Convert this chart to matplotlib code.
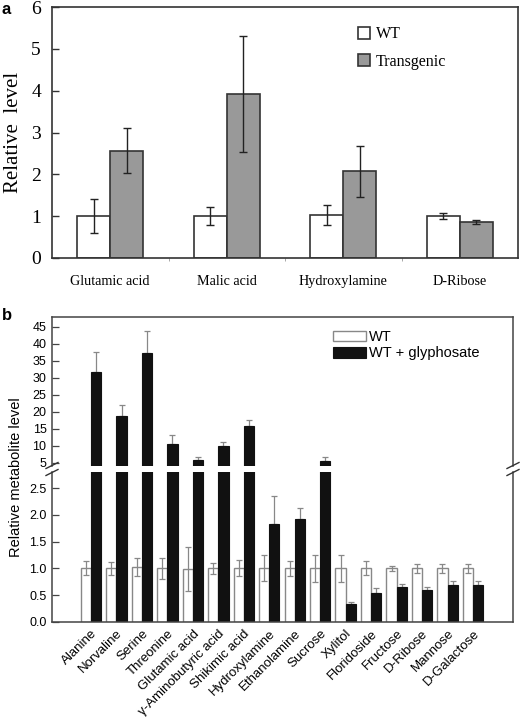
import matplotlib
matplotlib.use("Agg")
import matplotlib.pyplot as plt
import numpy as np

# Panel a data
a_categories = ["Glutamic acid", "Malic acid", "Hydroxylamine", "D-Ribose"]
a_wt = [1.0, 1.0, 1.02, 1.0]
a_wt_err = [0.40, 0.22, 0.24, 0.07]
a_tg = [2.56, 3.92, 2.07, 0.87]
a_tg_err = [0.54, 1.38, 0.60, 0.05]

# Panel b data
b_categories = ["Alanine", "Norvaline", "Serine", "Threonine", "Glutamic acid",
                "γ-Aminobutyric acid", "Shikimic acid", "Hydroxylamine", "Ethanolamine",
                "Sucrose", "Xylitol", "Floridoside", "Fructose", "D-Ribose", "Mannose",
                "D-Galactose"]
b_wt = [1.0, 1.0, 1.02, 1.0, 0.99, 1.0, 1.0, 1.01, 1.0, 1.0, 1.0, 1.0, 1.0, 1.0, 1.0, 1.0]
b_wt_err = [0.13, 0.12, 0.17, 0.20, 0.41, 0.10, 0.15, 0.25, 0.14, 0.26, 0.26, 0.13, 0.05, 0.09, 0.08, 0.09]
b_gly = [31.6, 18.9, 37.2, 10.7, 5.9, 10.0, 16.0, 1.83, 1.92, 5.5, 0.34, 0.54, 0.65, 0.60, 0.70, 0.69]
b_gly_err = [5.9, 3.0, 6.7, 2.6, 0.9, 1.3, 1.6, 0.53, 0.20, 1.3, 0.03, 0.10, 0.06, 0.06, 0.06, 0.08]

a_yticks = [0, 1, 2, 3, 4, 5, 6]
b_upper_ticks = [5, 10, 15, 20, 25, 30, 35, 40, 45]
b_lower_ticks = [0.0, 0.5, 1.0, 1.5, 2.0, 2.5]

fig = plt.figure(figsize=(5.2, 7.19), dpi=100)
W, H = 520.0, 719.0

def box(l, t, r, b):
    return [l / W, 1 - b / H, (r - l) / W, (b - t) / H]

# ---------------- Panel a ----------------
serif = ["Liberation Serif", "DejaVu Serif"]
axa = fig.add_axes(box(52, 7, 518, 258))
x = np.arange(len(a_categories))
bw = 0.285
edge = "#333333"
axa.bar(x - bw / 2, a_wt, bw, color="white", edgecolor=edge, linewidth=1.2, label="WT", zorder=2)
axa.bar(x + bw / 2, a_tg, bw, color="#999999", edgecolor=edge, linewidth=1.2, label="Transgenic", zorder=2)
axa.errorbar(x - bw / 2, a_wt, yerr=a_wt_err, fmt="none", ecolor="#222222", elinewidth=1.0, capsize=3, capthick=1.0, zorder=3)
axa.errorbar(x + bw / 2, a_tg, yerr=a_tg_err, fmt="none", ecolor="#222222", elinewidth=1.0, capsize=3, capthick=1.0, zorder=3)
axa.set_xlim(-0.5, 3.5)
axa.set_ylim(0, 6)
axa.set_yticks(a_yticks)
axa.set_yticklabels([str(t) for t in a_yticks], fontfamily=serif, fontsize=14)
axa.set_xticks(x)
axa.set_xticklabels(a_categories, fontfamily=serif, fontsize=10.2)
axa.set_xticks([0.5, 1.5, 2.5], minor=True)
axa.tick_params(axis="y", direction="in", length=5, width=1, color="#333333", pad=8)
axa.tick_params(axis="x", which="major", length=0, pad=12)
axa.tick_params(axis="x", which="minor", direction="out", length=2, color="#999999")
for s in axa.spines.values():
    s.set_color("#333333")
    s.set_linewidth(1.2)
axa.set_ylabel("Relative  level", fontfamily=serif, fontsize=15, labelpad=6)
leg = axa.legend(loc="upper left", bbox_to_anchor=(0.625, 0.98), frameon=False,
                 prop={"family": serif, "size": 11.5}, handlelength=0.75, handleheight=0.75,
                 handletextpad=0.4, labelspacing=0.7)
fig.text(2 / W, 1 - 2 / H, "a", fontsize=12, fontweight="bold", va="top", ha="left",
         family=["Liberation Sans", "DejaVu Sans"])

# ---------------- Panel b ----------------
sans = ["Liberation Sans", "DejaVu Sans"]
plt.rcParams["font.family"] = sans
axu = fig.add_axes(box(52, 317, 513, 466))
axl = fig.add_axes(box(52, 472, 513, 622))
xb = np.arange(len(b_categories))
bwb = 0.40
gray = "#888888"
for ax in (axu, axl):
    ax.bar(xb - bwb / 2, b_wt, bwb, color="white", edgecolor=gray, linewidth=1.0, label="WT", zorder=2)
    ax.bar(xb + bwb / 2, b_gly, bwb, color="#111111", edgecolor="#111111", linewidth=0.8,
           label="WT + glyphosate", zorder=2)
    ax.errorbar(xb - bwb / 2, b_wt, yerr=b_wt_err, fmt="none", ecolor=gray, elinewidth=0.9,
                capsize=2.5, capthick=0.9, zorder=3)
    ax.errorbar(xb + bwb / 2, b_gly, yerr=[np.zeros(len(b_gly)), b_gly_err], fmt="none",
                ecolor=gray, elinewidth=0.9, capsize=2.5, capthick=0.9, zorder=1)
    ax.set_xlim(-1.53, 16.57)
    for s in ax.spines.values():
        s.set_color("#444444")
        s.set_linewidth(1.1)
    ax.tick_params(axis="y", direction="in", length=5, width=0.9, color="#444444",
                   labelsize=9, pad=4)

axu.set_ylim(4.1, 47.9)
axu.set_yticks(b_upper_ticks)
axu.spines["bottom"].set_visible(False)
axu.set_xticks([])
axl.set_ylim(0, 2.8)
axl.set_yticks(b_lower_ticks)
axl.set_yticklabels([f"{t:.1f}" for t in b_lower_ticks])
axl.spines["top"].set_visible(False)
axl.set_xticks(xb)
axl.set_xticklabels(b_categories, rotation=45, ha="right", rotation_mode="anchor", fontsize=9.5)
axl.tick_params(axis="x", length=0, pad=4)

# break marks
for xp in (52, 513):
    for dy in (-3.5, 3.5):
        fig.add_artist(plt.Line2D([(xp - 6) / W, (xp + 6) / W],
                                  [1 - (469 + dy + 3) / H, 1 - (469 + dy - 3) / H],
                                  color="#333333", linewidth=1.0))

fig.text(9 / W, 1 - 477 / H, "Relative metabolite level", rotation=90, fontsize=10.5,
         va="center", ha="left", family=sans)
axu.legend(loc="upper left", bbox_to_anchor=(0.58, 1.0), frameon=False,
           fontsize=10.5, handlelength=2.3, handleheight=0.75, handletextpad=0.2,
           labelspacing=0.15, borderaxespad=0.5)
fig.text(2 / W, 1 - 308 / H, "b", fontsize=12, fontweight="bold", va="top", ha="left", family=sans)

fig.savefig("out.png", dpi=100)
